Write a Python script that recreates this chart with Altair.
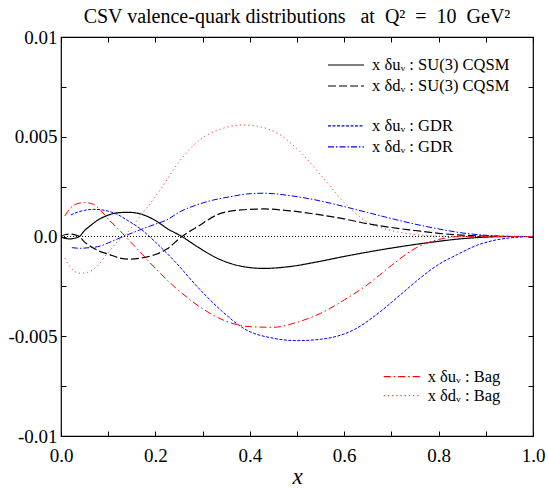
import altair as alt
import pandas as pd

# ---- curve values (x, x*delta q_V) at Q^2 = 10 GeV^2 ----
x_cqsm = [0.0, 0.01, 0.02, 0.03, 0.039, 0.05, 0.06, 0.08, 0.1, 0.125, 0.145, 0.17, 0.2,
          0.225, 0.256, 0.29, 0.33, 0.38, 0.43, 0.48, 0.55, 0.6, 0.65, 0.7, 0.75, 0.8,
          0.85, 0.9, 0.95, 1.0]
u_cqsm = [0.0, -0.0001, -0.00012, -0.00008, 0.0, 0.0003, 0.0005, 0.00085, 0.00107, 0.0012,
          0.00121, 0.00112, 0.0008, 0.0004, 0.0, -0.00053, -0.00108, -0.00148, -0.0016,
          -0.00152, -0.00124, -0.001, -0.00078, -0.00058, -0.0004, -0.00024, -0.00011,
          -0.00003, 0.0, 0.0]
d_cqsm = [0.0, 0.0001, 0.00012, 0.00008, 0.0, -0.00028, -0.00045, -0.00072, -0.00088,
          -0.00108, -0.00114, -0.00108, -0.0009, -0.00062, 0.0, 0.0005, 0.00108, 0.00133,
          0.00138, 0.0013, 0.00108, 0.00088, 0.00064, 0.00045, 0.0003, 0.00016, 0.00007,
          0.00002, 0.0, 0.0]

x_gdr_u = [0.021, 0.035, 0.05, 0.068, 0.085, 0.1, 0.12, 0.14, 0.167, 0.2, 0.24, 0.29, 0.34,
           0.39, 0.45, 0.5, 0.56, 0.62, 0.68, 0.72, 0.76, 0.8, 0.84, 0.88, 0.92, 0.96, 1.0]
u_gdr = [0.00108, 0.00122, 0.00131, 0.00136, 0.00134, 0.00127, 0.0011, 0.00082, 0.00041,
         -0.00028, -0.00122, -0.00255, -0.00372, -0.00465, -0.0051, -0.00522, -0.00512,
         -0.00468, -0.0037, -0.0029, -0.0021, -0.0014, -0.0009, -0.00045, -0.00018,
         -0.00005, 0.0]
x_gdr_d = [0.023, 0.04, 0.06, 0.083, 0.1, 0.132, 0.167, 0.2, 0.224, 0.252, 0.287, 0.323,
           0.36, 0.393, 0.429, 0.485, 0.55, 0.6, 0.65, 0.7, 0.75, 0.8, 0.85, 0.9, 0.95, 1.0]
d_gdr = [-0.00056, -0.00059, -0.00056, -0.00048, -0.00032, 0.0, 0.00033, 0.00062, 0.00083,
         0.00124, 0.00158, 0.00183, 0.002, 0.00213, 0.00217, 0.00205, 0.00178, 0.0015,
         0.0012, 0.0009, 0.00062, 0.00038, 0.00018, 0.00006, 0.00001, 0.0]

x_bag_u = [0.008, 0.02, 0.035, 0.05, 0.068, 0.085, 0.1, 0.13, 0.167, 0.2, 0.25, 0.3, 0.35,
           0.4, 0.45, 0.5, 0.55, 0.6, 0.65, 0.7, 0.75, 0.8, 0.85, 0.9, 1.0]
u_bag = [0.00103, 0.00142, 0.00165, 0.0017, 0.00162, 0.00128, 0.00088, 0.00016, -0.00076,
         -0.0016, -0.00272, -0.00362, -0.00425, -0.00452, -0.00455, -0.0043, -0.00385,
         -0.00318, -0.0024, -0.00145, -0.0006, -0.00015, 0.0, 0.0, 0.0]
x_bag_d = [0.008, 0.02, 0.04, 0.06, 0.08, 0.1, 0.12, 0.136, 0.167, 0.21, 0.252, 0.294, 0.337,
           0.386, 0.422, 0.464, 0.5, 0.55, 0.6, 0.65, 0.7, 0.75, 0.8, 0.9, 1.0]
d_bag = [-0.00109, -0.00155, -0.00184, -0.00177, -0.0014, -0.0008, -0.00025, 0.00008,
         0.00099, 0.00233, 0.0038, 0.00484, 0.00537, 0.00559, 0.0055, 0.0051, 0.0044,
         0.0031, 0.0017, 0.0007, 0.0003, 0.0001, 0.00002, 0.0, 0.0]

# ---- axes and labels ----
x_ticks = [0.0, 0.1, 0.2, 0.3, 0.4, 0.5, 0.6, 0.7, 0.8, 0.9, 1.0]
y_ticks = [-0.01, -0.0075, -0.005, -0.0025, 0.0, 0.0025, 0.005, 0.0075, 0.01]

lab_u_cqsm = "x δuᵥ : SU(3) CQSM"
lab_d_cqsm = "x δdᵥ : SU(3) CQSM"
lab_u_gdr = "x δuᵥ : GDR"
lab_d_gdr = "x δdᵥ : GDR"
lab_u_bag = "x δuᵥ : Bag"
lab_d_bag = "x δdᵥ : Bag"

# en spaces keep the wider spacing of the math part (SVG collapses plain runs of spaces)
title_text = "CSV valence-quark distributions\u2002 at\u2002Q²\u2002=\u200210\u2002GeV²"

SERIF = "Liberation Serif, Times New Roman, serif"
W, H = 472, 399

x_scale = alt.Scale(domain=[0, 1], nice=False, zero=False)
y_scale = alt.Scale(domain=[-0.01, 0.01], nice=False, zero=False)

tick_style = dict(tickSize=5, offset=-5, domain=False, grid=False, tickColor="black",
                  tickWidth=1)

x_axis_bottom = alt.Axis(
    values=x_ticks,
    labelExpr="round(datum.value * 10) % 2 == 0 ? format(datum.value, '.1f') : ''",
    labelFont=SERIF, labelFontSize=19, labelColor="black", labelPadding=10,
    labelFlush=False, labelOverlap=False, labelBound=False,
    title="x", titleFont=SERIF, titleFontSize=23, titleFontStyle="italic",
    titleFontWeight="normal", titleColor="black", titlePadding=0,
    **tick_style,
)
y_axis_left = alt.Axis(
    values=y_ticks,
    labelExpr="datum.value == 0 ? '0.0' : (abs(round(datum.value * 10000)) % 50 == 0 ? '' + datum.value : '')",
    labelFont=SERIF, labelFontSize=19, labelColor="black", labelPadding=4,
    labelFlush=False, labelOverlap=False, labelBound=False, title=None,
    **tick_style,
)
x_axis_top = alt.Axis(orient="top", values=x_ticks, labels=False, title=None, **tick_style)
y_axis_right = alt.Axis(orient="right", values=y_ticks, labels=False, title=None, **tick_style)


def curve(xs, ys, name):
    return pd.DataFrame({"x": xs, "y": ys, "series": name})


def legend_at(lx, ly, row_h):
    return alt.Legend(
        orient="none", legendX=lx, legendY=ly, title=None, padding=0,
        labelFont=SERIF, labelFontSize=16.5, labelColor="black", labelLimit=300,
        labelOffset=7, symbolType="stroke", symbolSize=1296, symbolStrokeWidth=1.2,
        rowPadding=0, clipHeight=row_h,
    )


def model_layer(df, labels, colors, dashes, legend, x_axis=None, y_axis=None, width=1.0):
    return alt.Chart(df).mark_line(strokeWidth=width, interpolate="monotone").encode(
        x=alt.X("x:Q", scale=x_scale, axis=x_axis),
        y=alt.Y("y:Q", scale=y_scale, axis=y_axis),
        color=alt.Color("series:N", scale=alt.Scale(domain=labels, range=colors), legend=legend),
        strokeDash=alt.StrokeDash("series:N", scale=alt.Scale(domain=labels, range=dashes),
                                  legend=legend),
    )


cqsm_df = pd.concat([curve(x_cqsm, u_cqsm, lab_u_cqsm), curve(x_cqsm, d_cqsm, lab_d_cqsm)])
gdr_df = pd.concat([curve(x_gdr_u, u_gdr, lab_u_gdr), curve(x_gdr_d, d_gdr, lab_d_gdr)])
bag_df = pd.concat([curve(x_bag_u, u_bag, lab_u_bag), curve(x_bag_d, d_bag, lab_d_bag)])

cqsm = model_layer(cqsm_df, [lab_u_cqsm, lab_d_cqsm], ["black", "black"],
                   [[1, 0], [8, 3]], legend_at(266, 17.5, 21),
                   x_axis=x_axis_bottom, y_axis=y_axis_left, width=1.2)
gdr = model_layer(gdr_df, [lab_u_gdr, lab_d_gdr], ["#0000ff", "#0000ff"],
                  [[3, 1.5], [6, 2, 1.5, 2]], legend_at(266, 78.5, 20.7))
bag = model_layer(bag_df, [lab_u_bag, lab_d_bag], ["#ff0000", "#ff3333"],
                  [[7, 3, 1.5, 3], [1.2, 3]], legend_at(321.7, 330.5, 18.3))

# dotted zero reference line, carrying the top and right tick axes
zero_df = pd.DataFrame({"x": [0.0, 1.0], "y": [0.0, 0.0]})
zero = alt.Chart(zero_df).mark_line(color="black", strokeWidth=1, strokeDash=[1, 2]).encode(
    x=alt.X("x:Q", scale=x_scale, axis=x_axis_top),
    y=alt.Y("y:Q", scale=y_scale, axis=y_axis_right),
)

chart = (
    alt.layer(zero, cqsm, gdr, bag)
    .resolve_scale(color="independent", strokeDash="independent")
    .resolve_axis(x="independent", y="independent")
    .properties(
        width=W, height=H,
        autosize=alt.AutoSizeParams(type="none"),
        padding={"left": 61, "top": 37, "right": 15, "bottom": 54},
        title=alt.TitleParams(title_text, font=SERIF, fontSize=20, fontWeight="normal",
                              color="black", anchor="middle", frame="group", offset=1),
    )
    .configure(background="white", font=SERIF)
    .configure_axis(labelFont=SERIF, titleFont=SERIF)
    .configure_legend(labelFont=SERIF)
    .configure_view(stroke="black", strokeWidth=1.2)
)

chart.save("out.html", embed_options={"renderer": "svg", "actions": False})
